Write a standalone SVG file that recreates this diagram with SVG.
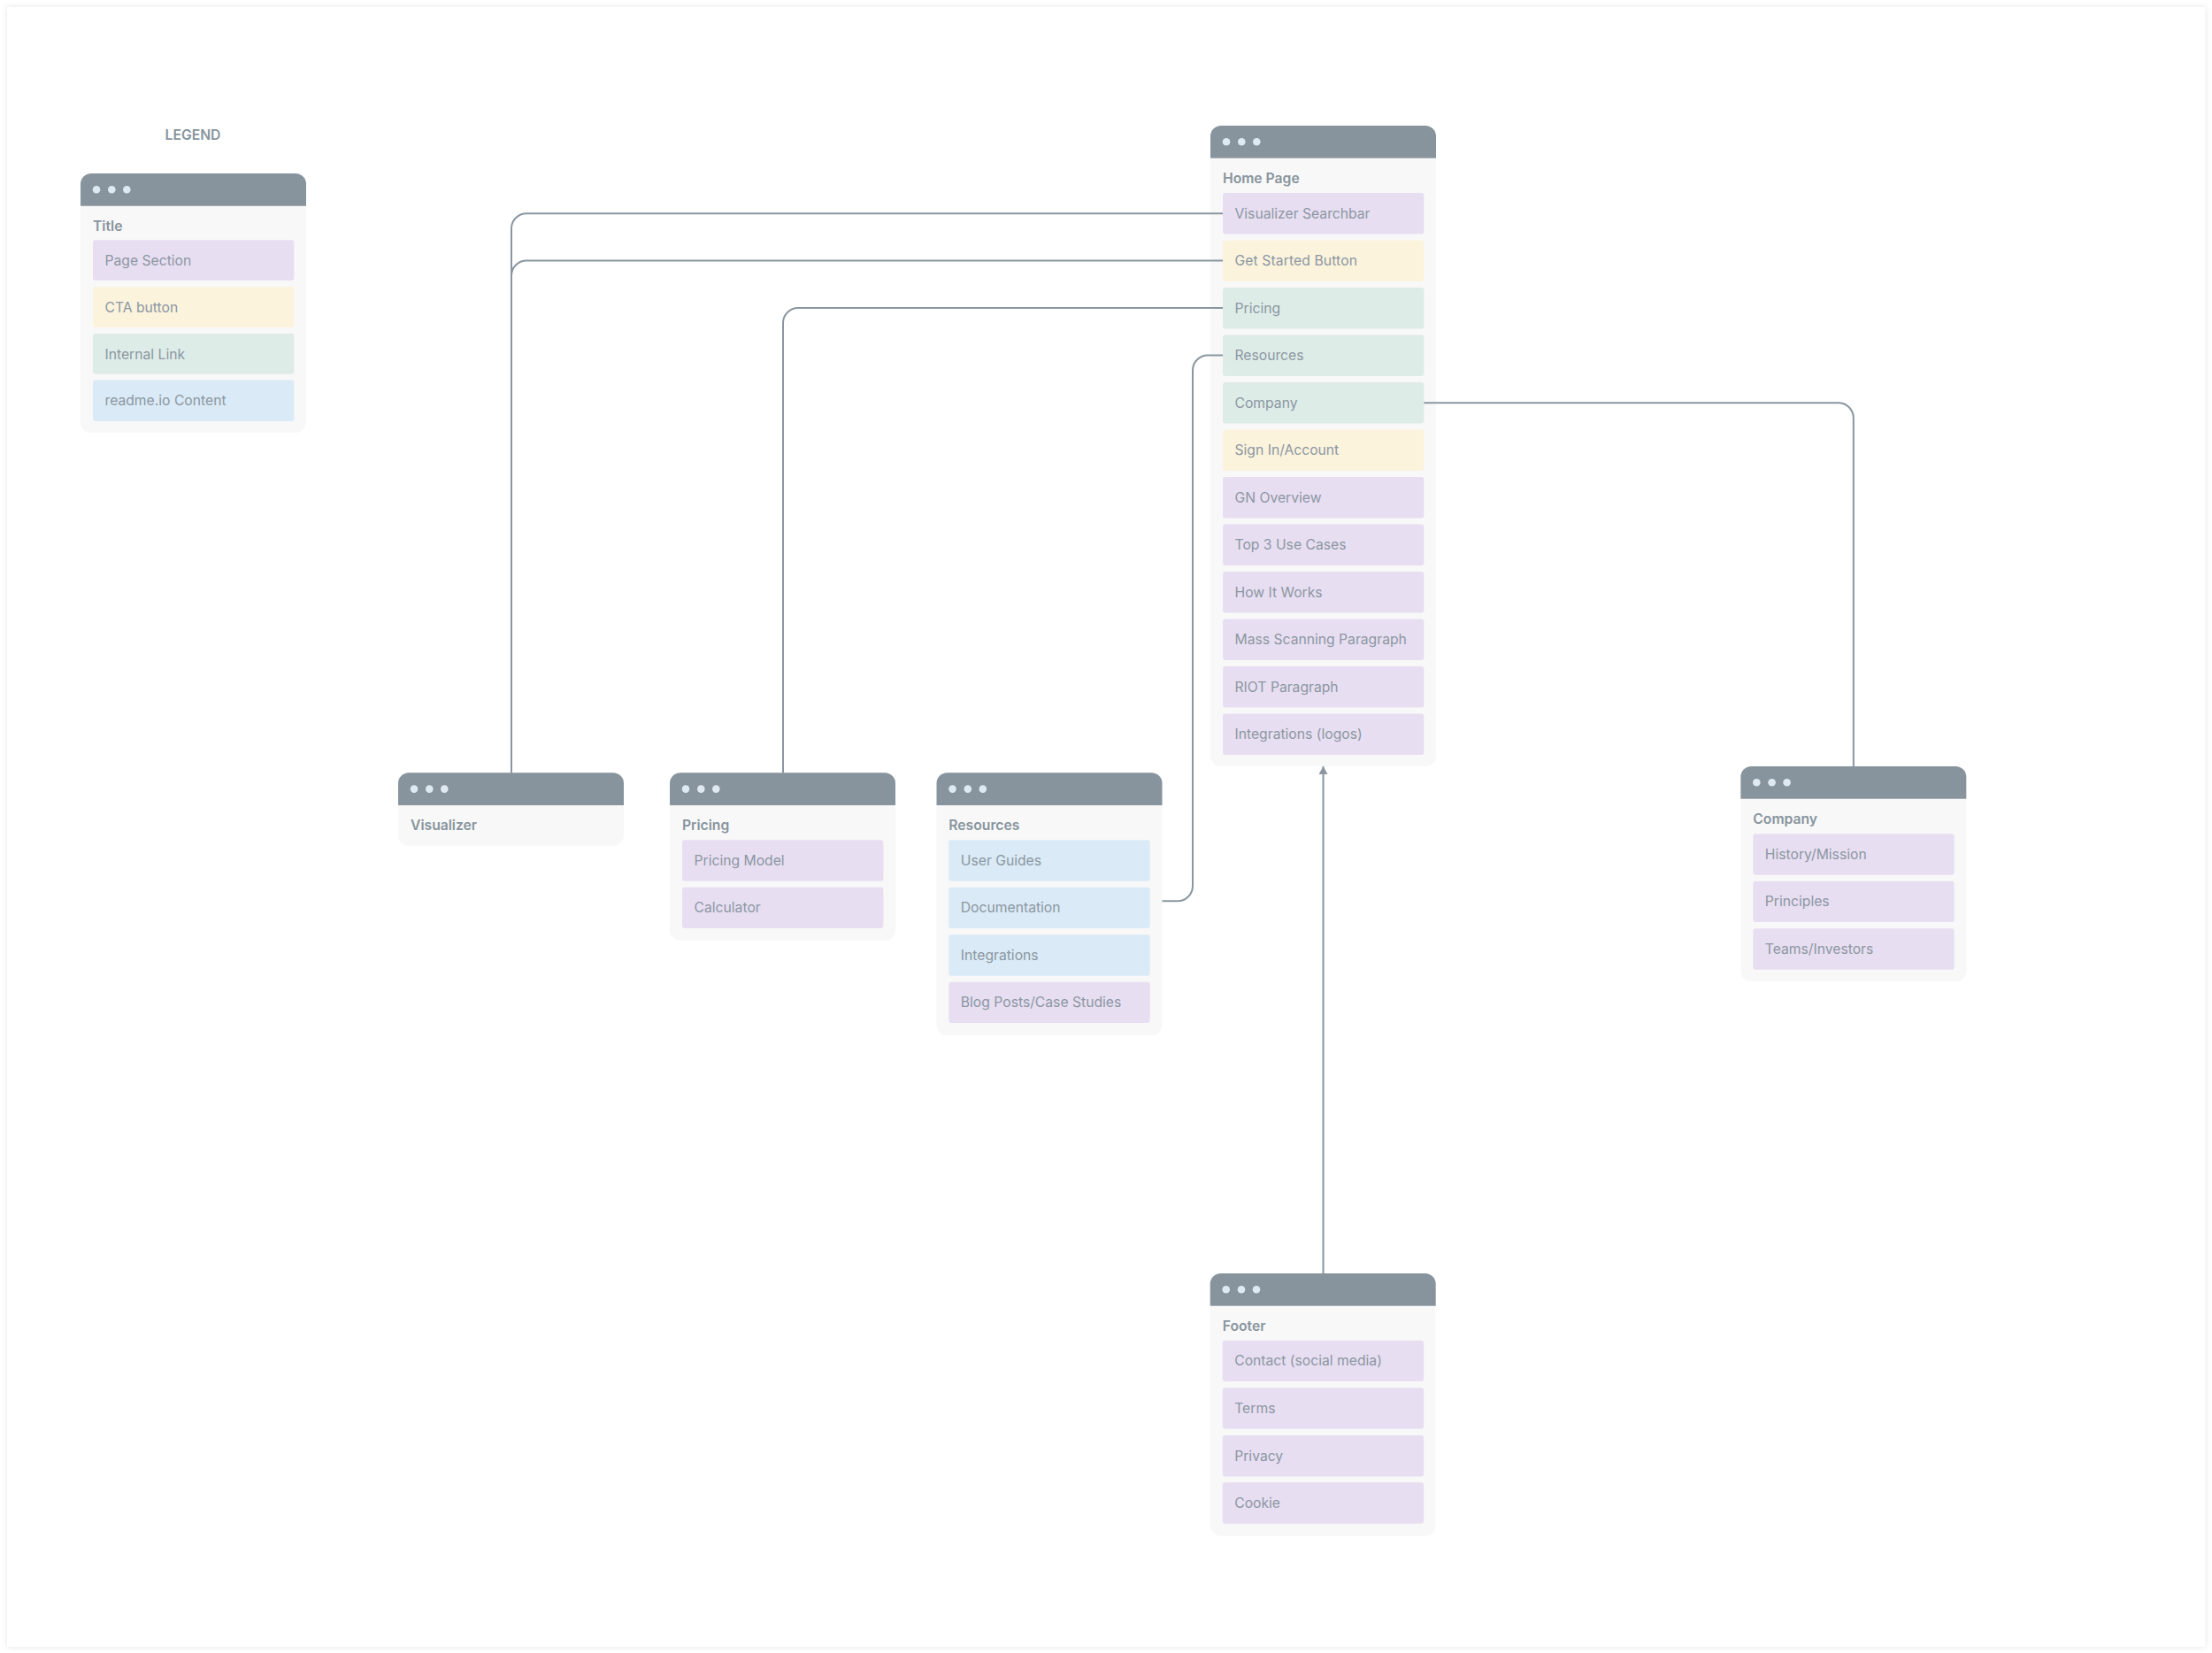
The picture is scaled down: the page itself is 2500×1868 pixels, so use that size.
<svg xmlns="http://www.w3.org/2000/svg" width="2500" height="1868" viewBox="0 0 2500 1868">
<style>
.body{fill:#f8f8f8}
.head{fill:#87949d}
.dot{fill:#dfe9f1}
.t{font-family:Inter,"Liberation Sans",sans-serif;font-size:15.7px;fill:#8b97a1}
.b{font-weight:600;fill:#87949d}
.p{fill:#e8def2}.y{fill:#fcf3dd}.g{fill:#deece8}.l{fill:#daeaf6}
.c{fill:none;stroke:#8a97a0;stroke-width:2}
</style>
<defs>
<filter id="sh" x="-2%" y="-2%" width="104%" height="104%"><feGaussianBlur stdDeviation="3"/></filter>
<marker id="ah" markerWidth="10" markerHeight="10" refX="9" refY="5" orient="auto" markerUnits="userSpaceOnUse"><path d="M0 0L9 5L0 10Z" fill="#8a97a0"/></marker>
<g id="hd"><path class="head" d="M0 36.700V12A12 12 0 0 1 12 0H243A12 12 0 0 1 255 12V36.700Z"/><circle class="dot" cx="18" cy="18.300" r="4.300"/><circle class="dot" cx="35.300" cy="18.300" r="4.300"/><circle class="dot" cx="52.300" cy="18.300" r="4.300"/></g>
</defs>
<rect width="2500" height="1868" fill="#fff"/>
<rect x="8" y="8" width="2484.500" height="1853" fill="#000" fill-opacity=".11" filter="url(#sh)"/>
<rect x="8" y="8" width="2484.500" height="1853" fill="#fff"/>
<text class="t b" x="218" y="157.500" text-anchor="middle">LEGEND</text>
<g id="legend">
<path class="body" d="M91 232H346V477A12 12 0 0 1 334 489H103A12 12 0 0 1 91 477Z"/>
<use href="#hd" x="91" y="196"/>
<text class="t b" x="105" y="261">Title</text>
<rect class="p" x="105" y="271.300" width="227.400" height="45.800" rx="3"/><text class="t" x="118.500" y="299.800">Page Section</text>
<rect class="y" x="105" y="324.200" width="227.400" height="45.800" rx="3"/><text class="t" x="118.500" y="352.700">CTA button</text>
<rect class="g" x="105" y="377" width="227.400" height="45.800" rx="3"/><text class="t" x="118.500" y="405.500">Internal Link</text>
<rect class="l" x="105" y="429.500" width="227.400" height="46.400" rx="3"/><text class="t" x="118.500" y="458">readme.io Content</text>
</g>
<g id="home">
<path class="body" d="M1368 178.700H1623V854A12 12 0 0 1 1611 866H1380A12 12 0 0 1 1368 854Z"/>
<use href="#hd" x="1368" y="142"/>
<text class="t b" x="1382" y="207.300">Home Page</text>
<rect class="p" x="1382" y="218" width="227.400" height="46.400" rx="3"/><text class="t" x="1395.500" y="246.700">Visualizer Searchbar</text>
<rect class="y" x="1382" y="271.500" width="227.400" height="46.400" rx="3"/><text class="t" x="1395.500" y="300.200" letter-spacing=".1">Get Started Button</text>
<rect class="g" x="1382" y="325" width="227.400" height="46.400" rx="3"/><text class="t" x="1395.500" y="353.700">Pricing</text>
<rect class="g" x="1382" y="378.500" width="227.400" height="46.400" rx="3"/><text class="t" x="1395.500" y="407.200">Resources</text>
<rect class="g" x="1382" y="432" width="227.400" height="46.400" rx="3"/><text class="t" x="1395.500" y="460.700">Company</text>
<rect class="y" x="1382" y="485.500" width="227.400" height="46.400" rx="3"/><text class="t" x="1395.500" y="514.200">Sign In/Account</text>
<rect class="p" x="1382" y="539" width="227.400" height="46.400" rx="3"/><text class="t" x="1395.500" y="567.700">GN Overview</text>
<rect class="p" x="1382" y="592.500" width="227.400" height="46.400" rx="3"/><text class="t" x="1395.500" y="621.200">Top 3 Use Cases</text>
<rect class="p" x="1382" y="646" width="227.400" height="46.400" rx="3"/><text class="t" x="1395.500" y="674.700">How It Works</text>
<rect class="p" x="1382" y="699.500" width="227.400" height="46.400" rx="3"/><text class="t" x="1395.500" y="728.200">Mass Scanning Paragraph</text>
<rect class="p" x="1382" y="753" width="227.400" height="46.400" rx="3"/><text class="t" x="1395.500" y="781.700">RIOT Paragraph</text>
<rect class="p" x="1382" y="806.500" width="227.400" height="46.400" rx="3"/><text class="t" x="1395.500" y="835.200">Integrations (logos)</text>
</g>
<g id="visualizer">
<path class="body" d="M450 910H705V944A12 12 0 0 1 693 956H462A12 12 0 0 1 450 944Z"/>
<use href="#hd" x="450" y="873.300"/>
<text class="t b" x="464" y="938">Visualizer</text>
</g>
<g id="pricing">
<path class="body" d="M757 910H1012V1050.700A12 12 0 0 1 1000 1062.700H769A12 12 0 0 1 757 1050.700Z"/>
<use href="#hd" x="757" y="873.300"/>
<text class="t b" x="771" y="938">Pricing</text>
<rect class="p" x="771" y="949.300" width="227.400" height="46.400" rx="3"/><text class="t" x="784.500" y="978">Pricing Model</text>
<rect class="p" x="771" y="1002.700" width="227.400" height="46.400" rx="3"/><text class="t" x="784.500" y="1031.400">Calculator</text>
</g>
<g id="resources">
<path class="body" d="M1058.500 910H1313.500V1158A12 12 0 0 1 1301.500 1170H1070.500A12 12 0 0 1 1058.500 1158Z"/>
<use href="#hd" x="1058.500" y="873.300"/>
<text class="t b" x="1072.300" y="938">Resources</text>
<rect class="l" x="1072.300" y="949.300" width="227.400" height="46.400" rx="3"/><text class="t" x="1085.800" y="978">User Guides</text>
<rect class="l" x="1072.300" y="1002.700" width="227.400" height="46.400" rx="3"/><text class="t" x="1085.800" y="1031.400">Documentation</text>
<rect class="l" x="1072.300" y="1056.300" width="227.400" height="46.400" rx="3"/><text class="t" x="1085.800" y="1085">Integrations</text>
<rect class="p" x="1072.300" y="1109.700" width="227.400" height="46.400" rx="3"/><text class="t" x="1085.800" y="1138.400">Blog Posts/Case Studies</text>
</g>
<g id="company">
<path class="body" d="M1967.300 902.700H2222.300V1097.300A12 12 0 0 1 2210.300 1109.300H1979.300A12 12 0 0 1 1967.300 1097.300Z"/>
<use href="#hd" x="1967.300" y="866"/>
<text class="t b" x="1981.300" y="931">Company</text>
<rect class="p" x="1981.300" y="942.300" width="227.400" height="46.400" rx="3"/><text class="t" x="1994.800" y="971">History/Mission</text>
<rect class="p" x="1981.300" y="995.700" width="227.400" height="46.400" rx="3"/><text class="t" x="1994.800" y="1024.400">Principles</text>
<rect class="p" x="1981.300" y="1049.300" width="227.400" height="46.400" rx="3"/><text class="t" x="1994.800" y="1078">Teams/Investors</text>
</g>
<g id="footer">
<path class="body" d="M1367.700 1475.700H1622.700V1723.700A12 12 0 0 1 1610.700 1735.700H1379.700A12 12 0 0 1 1367.700 1723.700Z"/>
<use href="#hd" x="1367.700" y="1439"/>
<text class="t b" x="1381.700" y="1504.300">Footer</text>
<rect class="p" x="1381.700" y="1514.700" width="227.400" height="46.400" rx="3"/><text class="t" x="1395.200" y="1543.400">Contact (social media)</text>
<rect class="p" x="1381.700" y="1568.300" width="227.400" height="46.400" rx="3"/><text class="t" x="1395.200" y="1597">Terms</text>
<rect class="p" x="1381.700" y="1622" width="227.400" height="46.400" rx="3"/><text class="t" x="1395.200" y="1650.700">Privacy</text>
<rect class="p" x="1381.700" y="1675.300" width="227.400" height="46.400" rx="3"/><text class="t" x="1395.200" y="1704">Cookie</text>
</g>
<g id="connectors">
<path class="c" d="M1382 241.300H595A17 17 0 0 0 578 258.300V873.300"/>
<path class="c" d="M1382 294.500H595A17 17 0 0 0 578 311.500V873.300"/>
<path class="c" d="M1382 348H902A17 17 0 0 0 885 365V873.300"/>
<path class="c" d="M1382 401.500H1365A17 17 0 0 0 1348 418.500V1001.300A17 17 0 0 1 1331 1018.300H1313.500"/>
<path class="c" d="M1609.400 455.300H2077.800A17 17 0 0 1 2094.800 472.300V866"/>
<path class="c" marker-end="url(#ah)" d="M1495.500 1439V866"/>
</g>
</svg>
